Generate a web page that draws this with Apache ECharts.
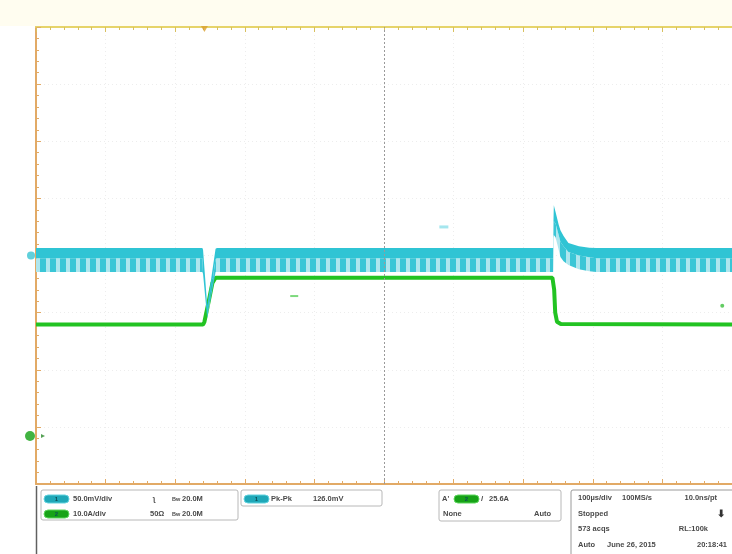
<!DOCTYPE html>
<html>
<head>
<meta charset="utf-8">
<script src="https://cdn.jsdelivr.net/npm/echarts@6/dist/echarts.min.js"></script>
<style>html,body{margin:0;padding:0;background:#fff}#c{width:732px;height:554px}</style>
</head>
<body>
<div id="c"></div>
<script>
// ---- data (time in µs, 100 µs/div; CH1 in mV, 50 mV/div; CH2 in A, 10 A/div) ----
const cyanT   = [0,     239,   240,  246,  258,   260,   743,   743.5, 744, 746.5, 751, 753.5, 758, 765,  780,  795,   805,   1000];
const cyanTop = [6.5,   6.5,   5,    -44,  6,     6.5,   6.5,   30,    44,  38,    27,  22,    17,  11,   8,    6.8,   6.5,   6.5];
const cyanMid = [-2.5,  -2.5,  -16,  -55,  -3,    -2.5,  -2.5,  18,    30,  28,    18,  12,    8,   3,    0,    -1.5,  -2.5,  -2.5];
const cyanBot = [-14.5, -14.5, -16,  -55,  -14.5, -14.5, -14.5, 15,    18,  16,    5,   -1.3,  -5,  -8.3, -12,  -13.8, -14.5, -14.5];

const greenT = [0,    240,  242, 248,  253.5, 258,  742,  744.5, 746,  748.6, 754,  1000];
const greenA = [19.5, 19.5, 20,  23.5, 26.8,  27.7, 27.7, 25.6,  21.6, 20,    19.6, 19.5];

const triggerTime = 242;     // µs
const ch1Offset = 0;         // mV
const ch2Ground = 0;         // A
const cursorMark = [586, 25];      // small CH1 marker (µs, mV)
const levelMarks = [[371, 24.5], [986, 22.8]]; // CH2 level marks (µs, A)

const ch1Readout = ['50.0mV/div', 'ʅ', '20.0M'];
const ch2Readout = ['10.0A/div', '50Ω', '20.0M'];
const measReadout = ['Pk-Pk', '126.0mV'];
const trigReadout = ["A'", '25.6A', 'None', 'Auto'];
const acqReadout = [['100µs/div', '100MS/s', '10.0ns/pt'], ['Stopped', '⬇'], ['573 acqs', 'RL:100k'], ['Auto', 'June 26, 2015', '20:18:41']];

// ---- styles ----
const pc = document.createElement('canvas');
pc.width = 10; pc.height = 10;
const g = pc.getContext('2d');
g.fillStyle = '#aee6ee'; g.fillRect(0, 0, 10, 10);
g.fillStyle = '#3ac6d6'; g.fillRect(0, 0, 6, 10);
const bandPattern = {image: pc, repeat: 'repeat'};

const chart = echarts.init(document.getElementById('c'), null, {renderer: 'canvas'});
const FONT = 'Liberation Sans';
const TC = '#4a4a4a';
function txt(x, y, s, opt) {
  opt = opt || {};
  return {type: 'text', x: x, y: y, z: 10, style: {text: s, fill: opt.fill || TC, font: (opt.weight || 'bold') + ' ' + (opt.size || 7.5) + 'px "' + FONT + '"', textAlign: opt.align || 'left', textVerticalAlign: 'middle'}};
}
function box(x, y, w, h, stroke) {
  return {type: 'rect', z: 5, shape: {x: x, y: y, width: w, height: h, r: 2}, style: {fill: '#fff', stroke: stroke || '#b8b8b8', lineWidth: 1}};
}
function pill(x, y, color, edgeCol, label) {
  return [
    {type: 'rect', z: 11, shape: {x: x, y: y, width: 25, height: 8, r: 4},
     style: {fill: color, stroke: edgeCol, lineWidth: 1}},
    {type: 'text', z: 12, x: x + 12.5, y: y + 4.2, style: {text: label, fill: '#0b4f57', font: 'bold 6px "' + FONT + '"', textAlign: 'center', textVerticalAlign: 'middle'}}
  ];
}

const graphics = [
  {type: 'rect', z: 0, shape: {x: 0, y: 0, width: 732, height: 26}, style: {fill: '#fffdf0'}},
  {type: 'line', z: 6, shape: {x1: 36.5, y1: 486, x2: 36.5, y2: 554}, style: {stroke: '#606060', lineWidth: 1.5}},
  box(41, 490, 197, 30), box(241, 490, 141, 16), box(439, 490, 122, 31), box(571, 490, 170, 70, '#9a9a9a'),
  ...pill(44, 495, '#1fa8b8', '#62d3df', '1'), ...pill(44, 510, '#17a317', '#5ed65e', '2'),
  ...pill(244, 495, '#1fa8b8', '#62d3df', '1'), ...pill(454, 495, '#17a317', '#5ed65e', '2'),
  txt(73, 499, ch1Readout[0]), txt(153, 499, ch1Readout[1]), txt(172, 499.5, 'Bw', {size: 5.5}), txt(182, 499, ch1Readout[2]),
  txt(73, 514, ch2Readout[0]), txt(150, 514, ch2Readout[1]), txt(172, 514.5, 'Bw', {size: 5.5}), txt(182, 514, ch2Readout[2]),
  txt(271, 499, measReadout[0]), txt(313, 499, measReadout[1]),
  txt(442, 499, trigReadout[0]), txt(481, 499, '/', {size: 8}), txt(489, 499, trigReadout[1]),
  txt(443, 514, trigReadout[2]), txt(534, 514, trigReadout[3]),
  txt(578, 498, acqReadout[0][0]), txt(622, 498, acqReadout[0][1]), txt(717, 498, acqReadout[0][2], {align: 'right'}),
  txt(578, 514, acqReadout[1][0]), txt(721, 514, acqReadout[1][1], {align: 'center', size: 10, fill: '#333'}),
  txt(578, 529, acqReadout[2][0]), txt(708, 529, acqReadout[2][1], {align: 'right'}),
  txt(578, 545, acqReadout[3][0]), txt(607, 545, acqReadout[3][1]), txt(727, 545, acqReadout[3][2], {align: 'right'})
];

const edge = '#e2aa66';
const gridLine = {show: true, lineStyle: {color: '#ededed', type: [1, 3]}};
const option = {
  animation: false,
  backgroundColor: '#ffffff',
  grid: {left: 36, top: 27, width: 698, height: 457},
  xAxis: [
    {type: 'value', min: 0, max: 1000, interval: 100, position: 'bottom',
     axisLine: {show: true, onZero: false, lineStyle: {color: edge, width: 2}},
     axisTick: {show: true, inside: true, length: 5, lineStyle: {color: edge}},
     minorTick: {show: true, splitNumber: 5, length: 3, lineStyle: {color: edge}},
     axisLabel: {show: false},
     splitLine: gridLine},
    {type: 'value', min: 0, max: 1000, interval: 100, position: 'top',
     axisLine: {show: true, onZero: false, lineStyle: {color: '#e6d46a', width: 2}},
     axisTick: {show: true, inside: true, length: 5, lineStyle: {color: '#d8c060'}},
     minorTick: {show: true, splitNumber: 5, length: 3, lineStyle: {color: '#d8c060'}},
     axisLabel: {show: false}, splitLine: {show: false}}
  ],
  yAxis: [
    {type: 'value', min: -200, max: 200, interval: 50, position: 'left',
     axisLine: {show: true, onZero: false, lineStyle: {color: edge, width: 2}},
     axisTick: {show: true, inside: true, length: 5, lineStyle: {color: edge}},
     minorTick: {show: true, splitNumber: 5, length: 3, lineStyle: {color: edge}},
     axisLabel: {show: false},
     splitLine: gridLine},
    {type: 'value', min: -8.4, max: 71.6, show: false, splitLine: {show: false}}
  ],
  graphic: graphics,
  series: [
    {type: 'line', name: 'CH2', xAxisIndex: 0, yAxisIndex: 1, z: 3,
     data: greenT.map((t, i) => [t, greenA[i]]), showSymbol: false,
     lineStyle: {color: '#22c322', width: 4}},
    {type: 'custom', name: 'CH1', xAxisIndex: 0, yAxisIndex: 0, z: 4, clip: true,
     data: [[500, 0]],
     renderItem: function (params, api) {
       const top = cyanT.map((t, i) => api.coord([t, cyanTop[i]]));
       const mid = cyanT.map((t, i) => api.coord([t, cyanMid[i]]));
       const bot = cyanT.map((t, i) => api.coord([t, cyanBot[i]]));
       return {type: 'group', children: [
         {type: 'polygon', shape: {points: mid.concat(bot.slice().reverse())}, style: {fill: bandPattern}},
         {type: 'polygon', shape: {points: top.concat(mid.slice().reverse())}, style: {fill: '#2fc4d4'}}
       ]};
     }},
    {type: 'scatter', name: 'marks1', xAxisIndex: 0, yAxisIndex: 0, z: 6, clip: false, silent: true,
     data: [
       {value: [0, ch1Offset], symbol: 'circle', symbolSize: 8, symbolOffset: [-5, 0], itemStyle: {color: '#38c4d2'}},
       {value: [triggerTime, 200], symbol: 'triangle', symbolRotate: 180, symbolSize: [7, 6], symbolOffset: [0, 2], itemStyle: {color: '#d9a030'}},
       {value: cursorMark, symbol: 'rect', symbolSize: [9, 3], itemStyle: {color: '#8ee0ea'}}
     ],
     markLine: {silent: true, symbol: 'none', label: {show: false},
       lineStyle: {color: '#9a9a9a', type: [2, 2], width: 1},
       data: [{xAxis: 500}]}},
    {type: 'scatter', name: 'marks2', xAxisIndex: 0, yAxisIndex: 1, z: 6, clip: false, silent: true,
     data: [
       {value: [0, ch2Ground], symbol: 'circle', symbolSize: 10, symbolOffset: [-6, 0], itemStyle: {color: '#12a012'}},
       {value: [0, ch2Ground], symbol: 'triangle', symbolRotate: -90, symbolSize: 4, symbolOffset: [7, 0], itemStyle: {color: '#2a8a2a'}},
       {value: levelMarks[0], symbol: 'rect', symbolSize: [8, 2], itemStyle: {color: '#5ccf5c'}},
       {value: levelMarks[1], symbol: 'circle', symbolSize: 4, itemStyle: {color: '#3cbf3c'}}
     ]}
  ]
};
chart.setOption(option);
</script>
</body>
</html>
